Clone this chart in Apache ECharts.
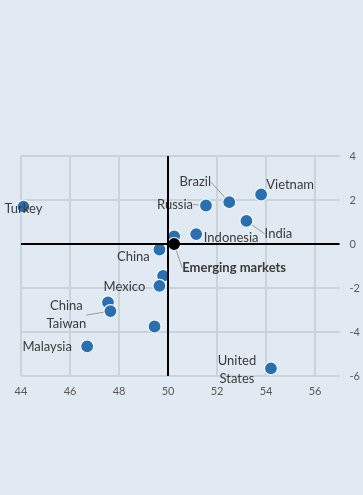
<!DOCTYPE html>
<html>
<head>
<meta charset="utf-8">
<script src="https://cdn.jsdelivr.net/npm/echarts@6/dist/echarts.min.js"></script>
<style>
html,body{margin:0;padding:0;background:#e1eaf2;}
#c{width:363px;height:495px;}
</style>
</head>
<body>
<div id="c"></div>
<script>
// Data
const names = ['Turkey','Vietnam','Brazil','Russia','India','Indonesia','','China','','Mexico','','China\nTaiwan','','Malaysia','United\nStates'];
const xValues = [44.1, 53.8, 52.5, 51.55, 53.2, 51.15, 50.25, 49.65, 49.8, 49.65, 47.55, 47.65, 49.45, 46.7, 54.2];
const yValues = [1.7, 2.25, 1.9, 1.75, 1.05, 0.45, 0.35, -0.25, -1.45, -1.9, -2.65, -3.05, -3.75, -4.65, -5.65];
const aggName = ['Emerging markets'];
const aggX = [50.25];
const aggY = [0.0];
const xTicks = [44, 46, 48, 50, 52, 54, 56];
const yTicks = [-6, -4, -2, 0, 2, 4];

// label placement (style only)
const labelMove = {
  'Turkey': [0, 2, false],
  'Vietnam': [29, -10, false],
  'Brazil': [-34, -20, true],
  'Russia': [-31, -1, true],
  'India': [32, 13, true],
  'Indonesia': [35, 4, false],
  'China': [-26, 7, false],
  'Mexico': [-35, 1, false],
  'China\nTaiwan': [-44, 4, true],
  'Malaysia': [-40, 1, false],
  'United\nStates': [-34, 2, false],
  'Emerging markets': [60, 24, true]
};

const pts = names.map((n, i) => {
  const mv = labelMove[n];
  return {
    name: n,
    value: [xValues[i], yValues[i]],
    label: { show: !!n },
    labelLine: { show: mv ? mv[2] : false }
  };
});
const aggPts = aggName.map((n, i) => ({
  name: n, value: [aggX[i], aggY[i]],
  label: { show: true }, labelLine: { show: true }
}));
const seriesNames = { 1: names, 2: aggName };

const layoutFn = function (p) {
  const list = seriesNames[p.seriesIndex] || [];
  const mv = labelMove[list[p.dataIndex] || ''];
  if (!mv) return {};
  return { dx: mv[0], dy: mv[1] };
};

const chart = echarts.init(document.getElementById('c'), null, { renderer: 'canvas' });
const gridColor = '#c8d3db';
chart.setOption({
  backgroundColor: '#e1eaf2',
  animation: false,
  grid: { left: 21, right: 23, top: 156, bottom: 119, containLabel: false },
  xAxis: {
    type: 'value', min: 44, max: 57, interval: 2,
    axisLine: { show: false }, axisTick: { show: false },
    splitLine: { show: true, showMaxLine: false, lineStyle: { color: gridColor, width: 2 } },
    axisLabel: {
      color: '#595959', fontSize: 11, fontFamily: 'Lato', margin: 10,
      showMaxLabel: false,
      formatter: v => (xTicks.indexOf(v) >= 0 ? String(v) : '')
    }
  },
  yAxis: {
    type: 'value', position: 'right', min: -6, max: 4, interval: 2,
    axisLine: { show: false }, axisTick: { show: false },
    splitLine: { show: true, lineStyle: { color: gridColor, width: 2 } },
    axisLabel: {
      color: '#595959', fontSize: 11, fontFamily: 'Lato', margin: 10,
      formatter: v => (yTicks.indexOf(v) >= 0 ? String(v) : '')
    }
  },
  series: [
    {
      type: 'line', data: [], z: 1,
      markLine: {
        silent: true, symbol: 'none', animation: false,
        label: { show: false },
        lineStyle: { color: '#000', width: 2, type: 'solid' },
        data: [{ xAxis: 50 }, { yAxis: 0 }]
      }
    },
    {
      type: 'scatter', z: 3,
      symbolSize: 13,
      itemStyle: { color: '#2a70b0', borderColor: '#f4f7fa', borderWidth: 1.2, opacity: 1 },
      label: {
        show: true, position: 'inside', formatter: '{b}',
        color: '#3a3a3a', fontSize: 13, fontFamily: 'Lato', lineHeight: 18
      },
      labelLine: { lineStyle: { color: '#9a9a9a', width: 1 } },
      labelLayout: layoutFn,
      data: pts
    },
    {
      type: 'scatter', z: 4,
      symbolSize: 13,
      itemStyle: { color: '#000000', borderColor: '#f4f7fa', borderWidth: 1.2, opacity: 1 },
      label: {
        show: true, position: 'inside', formatter: '{b}',
        color: '#3a3a3a', fontSize: 13, fontWeight: 'bold', fontFamily: 'Lato'
      },
      labelLine: { lineStyle: { color: '#9a9a9a', width: 1 } },
      labelLayout: layoutFn,
      data: aggPts
    }
  ]
});
</script>
</body>
</html>
